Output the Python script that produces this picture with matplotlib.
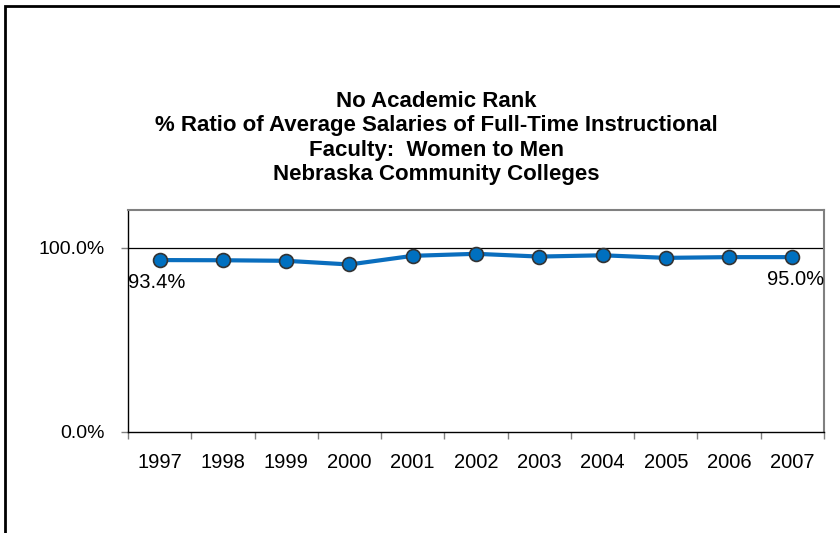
import numpy as np
import matplotlib
matplotlib.use('Agg')
import matplotlib.pyplot as plt
import matplotlib.patches as patches

plt.rcParams['font.family'] = ['Liberation Sans', 'DejaVu Sans']

# data
years = ['1997', '1998', '1999', '2000', '2001', '2002', '2003', '2004', '2005', '2006', '2007']
ratio = [93.4, 93.3, 93.0, 91.0, 95.7, 96.8, 95.3, 96.0, 94.6, 95.0, 95.0]
yticks = [0, 100]
ytick_labels = ['0.0%', '100.0%']
title = ('No Academic Rank\n% Ratio of Average Salaries of Full-Time Instructional\n'
         'Faculty:  Women to Men\nNebraska Community Colleges')

fig = plt.figure(figsize=(8.4, 5.33), dpi=100)
ax = fig.add_axes([128/840, 1-432/533, (824-128)/840, (432-210)/533])

# outer frame of the chart (runs off the right and bottom edge)
frame = patches.Rectangle((5/840, -0.1), 1.2, 1-6/533+0.1, transform=fig.transFigure,
                          fill=False, edgecolor='black', linewidth=2, clip_on=False)
fig.patches.append(frame)

x = np.arange(len(years))
ax.axhline(100, color='black', linewidth=0.9, zorder=1)
ax.plot(x, ratio, color='#0A6EBE', linewidth=3, marker='o', markersize=10,
        markerfacecolor='#0070C0', markeredgecolor='#333333', markeredgewidth=1.2, zorder=3)

# labels on first and last point
ax.text(x[0]-0.5, ratio[0]-12, '%.1f%%' % ratio[0], fontsize=14.5, ha='left', va='center')
ax.text(x[-1]+0.5, ratio[-1]-12, '%.1f%%' % ratio[-1], fontsize=14.5, ha='right', va='center')

ax.set_xlim(-0.5, len(years)-0.5)
ax.set_ylim(0, 120.6)
ax.set_xticks(np.arange(len(years)+1)-0.5)
ax.set_xticklabels([])
ax.set_xticks(x, minor=True)
ax.set_xticklabels(years, minor=True, fontsize=14.5)
ax.tick_params(axis='x', which='major', length=5, color='#808080', width=1)
ax.tick_params(axis='x', which='minor', length=0, pad=15)
ax.set_yticks(yticks)
ax.set_yticklabels(ytick_labels, fontsize=14)
ax.tick_params(axis='y', length=5, color='#808080', width=1, pad=12)

for s in ['top', 'right']:
    ax.spines[s].set_color('#808080')
    ax.spines[s].set_linewidth(1.5)
for s in ['left', 'bottom']:
    ax.spines[s].set_color('black')
    ax.spines[s].set_linewidth(1)

fig.text(436/840, 1-138/533, title, fontsize=16, fontweight='bold', ha='center', va='center',
         linespacing=1.2)

fig.savefig('out.png', dpi=100)
